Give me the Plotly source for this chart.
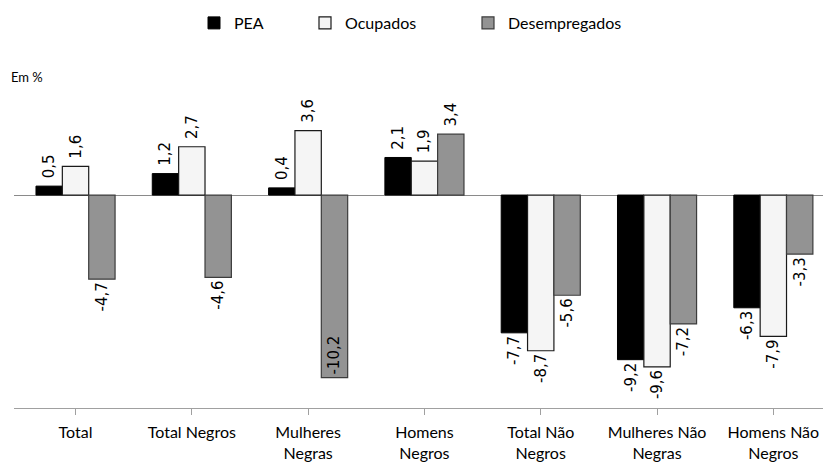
import plotly.graph_objects as go

categories = ["Total", "Total Negros", "Mulheres<br>Negras", "Homens<br>Negros",
              "Total Não<br>Negros", "Mulheres Não<br>Negras", "Homens Não<br>Negros"]
pea = [0.5, 1.2, 0.4, 2.1, -7.7, -9.2, -6.3]
ocupados = [1.6, 2.7, 3.6, 1.9, -8.7, -9.6, -7.9]
desempregados = [-4.7, -4.6, -10.2, 3.4, -5.6, -7.2, -3.3]

NB = "\u00a0"

def fmt(vals):
    out = []
    for v in vals:
        s = f"{v:.1f}".replace(".", ",")
        out.append(NB + s if v > 0 else s)
    return out

x = list(range(len(categories)))
label_font = dict(family="DejaVu Sans", size=15, color="black")

W, H = 823, 465
ML, MT, MB = 14, 85, 57
PW, PH = W - ML, H - MT - MB

fig = go.Figure()
fig.add_trace(go.Bar(
    name="PEA", x=x, y=pea, text=fmt(pea), textposition="outside", legend="legend",
    marker=dict(color="black", line=dict(color="black", width=1)),
))
fig.add_trace(go.Bar(
    name="Ocupados", x=x, y=ocupados, text=fmt(ocupados), textposition="outside",
    legend="legend2",
    marker=dict(color="#f5f5f5", line=dict(color="#1a1a1a", width=1.2)),
))
fig.add_trace(go.Bar(
    name="Desempregados", x=x, y=desempregados, text=fmt(desempregados),
    textposition=["inside" if v < -9.9 else "outside" for v in desempregados],
    insidetextanchor="end", legend="legend3",
    marker=dict(color="#939393", line=dict(color="#3c3c3c", width=1.2)),
))
fig.update_traces(textangle=-90, textfont=label_font, insidetextfont=label_font,
                  outsidetextfont=label_font, constraintext="none", cliponaxis=False)

leg_common = dict(orientation="h", xref="container", yref="container",
                  y=1 - 23 / H, xanchor="left", yanchor="middle",
                  font=dict(family="Lato", size=16, color="black"),
                  itemwidth=30, bgcolor="rgba(0,0,0,0)")

fig.update_layout(
    width=W, height=H,
    margin=dict(l=ML, r=0, t=MT, b=MB),
    paper_bgcolor="white", plot_bgcolor="white",
    barmode="group", bargap=0.32, bargroupgap=0.0,
    font=dict(family="Lato", size=16, color="black"),
    showlegend=True,
    legend=dict(x=194 / W, **leg_common),
    legend2=dict(x=305 / W, **leg_common),
    legend3=dict(x=468 / W, **leg_common),
    xaxis=dict(
        range=[-0.529, 6.427], tickmode="array", tickvals=x, ticktext=categories,
        showline=True, linecolor="#a0a0a0", linewidth=1.2,
        ticks="outside", ticklen=6, tickcolor="#a0a0a0", tickson="boundaries",
        ticklabelstandoff=4, showgrid=False, zeroline=False,
        tickfont=dict(family="Lato", size=16, color="black"),
    ),
    yaxis=dict(
        range=[-11.9, 6.15], showticklabels=False, showgrid=False,
        zeroline=True, zerolinecolor="#8a8a8a", zerolinewidth=1.2, showline=False,
    ),
    annotations=[dict(text="Em %", xref="paper", yref="paper",
                      x=(9 - ML) / PW, y=1 + 18 / PH,
                      xanchor="left", yanchor="top", showarrow=False,
                      font=dict(family="Lato", size=13, color="black"))],
)

fig.write_html(
    "out.html",
    config={"displayModeBar": False},
    post_script="document.body.style.margin='0';document.documentElement.style.overflow='hidden';",
)
